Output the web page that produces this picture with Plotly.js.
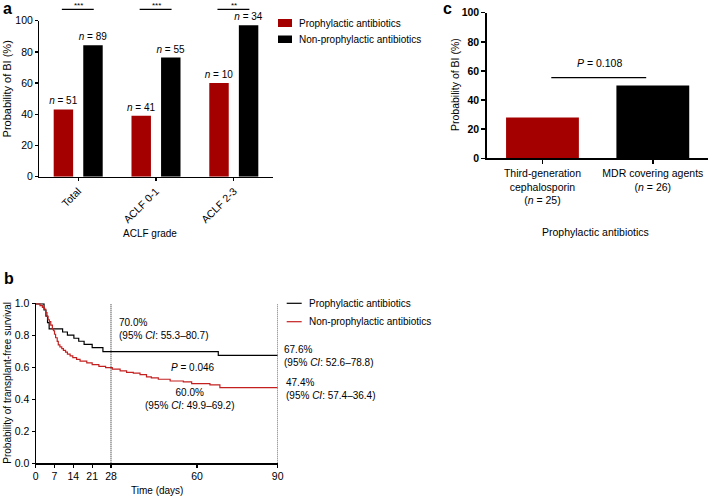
<!DOCTYPE html>
<html><head><meta charset="utf-8">
<script src="https://cdn.plot.ly/plotly-3.0.1.min.js"></script>
<style>html,body{margin:0;padding:0;background:#fff}</style>
</head><body><div id="chart" style="width:708px;height:496px"></div>
<script>
// ---------- Panel a: probability of BI by ACLF grade ----------
const gradeCats = ['Total', 'ACLF 0-1', 'ACLF 2-3'];
const probProph = [43.1, 39.0, 60.0];
const probNonProph = [84.3, 76.4, 97.1];
const nProph = [51, 41, 10];
const nNonProph = [89, 55, 34];
const sigLabels = ['***', '***', '**'];
const seriesNames = ['Prophylactic antibiotics', 'Non-prophylactic antibiotics'];

// ---------- Panel c: probability of BI by prophylactic agent ----------
const abxCats = ['Third-generation cephalosporin', 'MDR covering agents'];
const abxLabels = ['Third-generation<br>cephalosporin', 'MDR covering agents'];
const abxN = [25, 26];
const abxProb = [28.0, 50.0];
const abxPValue = '0.108';
const probTicks = [0, 20, 40, 60, 80, 100];

// ---------- Panel b: transplant-free survival (Kaplan-Meier) ----------
const daysProph = [0, 3.1, 3.8, 4.4, 5.0, 10.0, 11.8, 14.2, 16.0, 18.0, 21.0, 25.0, 67.9, 90];
const survProph = [1.0, 0.961, 0.922, 0.882, 0.843, 0.823, 0.804, 0.784, 0.765, 0.745, 0.725, 0.700, 0.676, 0.676];
const daysNon = [0, 1.6, 2.5, 3.2, 3.7, 4.2, 4.6, 5.1, 5.6, 6.2, 6.6, 7.0, 7.4, 8.0, 8.4, 9.0, 9.7, 10.3, 11.1, 11.8,
  12.8, 13.8, 15.2, 16.5, 19.0, 21.0, 23.5, 26.0, 28.5, 31.4, 33.8, 36.3, 38.8, 41.2, 43.0, 45.6, 50.0, 54.9, 58.0, 64.8, 68.5, 90];
const survNon = [1.0, 0.989, 0.978, 0.966, 0.944, 0.921, 0.900, 0.888, 0.866, 0.843, 0.831, 0.809, 0.787, 0.764, 0.742, 0.730, 0.719, 0.708, 0.697, 0.685,
  0.674, 0.663, 0.652, 0.640, 0.629, 0.618, 0.607, 0.600, 0.590, 0.580, 0.570, 0.565, 0.556, 0.542, 0.535, 0.527, 0.516, 0.510, 0.500, 0.492, 0.474, 0.474];
const kmTicks = [0, 7, 14, 21, 28, 60, 90];
const survTicks = [0, 0.2, 0.4, 0.6, 0.8, 1.0];
const kmMarkDays = [28, 90];
const kmNotes = [
  {day: 28, surv: 0.70, ci: '55.3–80.7'},
  {day: 90, surv: 0.676, ci: '52.6–78.8'},
  {day: 90, surv: 0.474, ci: '57.4–36.4'},
  {day: 28, surv: 0.60, ci: '49.9–69.2'}
];
const kmPValue = '0.046';

// ---------- styling ----------
const FONT = 'Liberation Sans, Arial, Helvetica, sans-serif';
const RED = '#A50000';
const KMRED = '#C42020';
const W = 708, H = 496;
const px = v => v / W;
const py = v => 1 - v / H;

const domA = {x: [px(39.3), px(272.7)], y: [py(176.7), py(20.7)]};
const domC = {x: [px(487.3), 1.0], y: [py(158.3), py(12.7)]};
const domB = {x: [px(35.7), px(277.7)], y: [py(463.3), py(303.3)]};
const rngA = [-0.5, 2.5], rngAy = [0, 100];

const nText = n => '<i>n</i> = ' + n;

const traces = [
  {type: 'bar', name: seriesNames[0], x: gradeCats, y: probProph, xaxis: 'x', yaxis: 'y',
   width: 0.25, offset: -0.315, marker: {color: RED},
   text: nProph.map(nText), textposition: 'outside', constraintext: 'none', cliponaxis: false,
   textfont: {family: FONT, size: 10, color: '#000'}, hoverinfo: 'x+y'},
  {type: 'bar', name: seriesNames[1], x: gradeCats, y: probNonProph, xaxis: 'x', yaxis: 'y',
   width: 0.25, offset: 0.065, marker: {color: '#000'},
   text: nNonProph.map(nText), textposition: 'outside', constraintext: 'none', cliponaxis: false,
   textfont: {family: FONT, size: 10, color: '#000'}, hoverinfo: 'x+y'},
  {type: 'bar', name: 'Prophylactic antibiotics', x: abxCats, y: abxProb, xaxis: 'x2', yaxis: 'y2',
   width: 0.66, marker: {color: [RED, '#000']}, hoverinfo: 'x+y'},
  {type: 'scatter', mode: 'lines', name: seriesNames[0], x: daysProph, y: survProph, xaxis: 'x3', yaxis: 'y3',
   line: {shape: 'hv', color: '#000', width: 1.2}},
  {type: 'scatter', mode: 'lines', name: seriesNames[1], x: daysNon, y: survNon, xaxis: 'x3', yaxis: 'y3',
   line: {shape: 'hv', color: KMRED, width: 1.2}}
];

function catPaper(idx, dom, rng) { return dom[0] + (idx - rng[0]) / (rng[1] - rng[0]) * (dom[1] - dom[0]); }
function valPaper(v, dom, rng) { return dom[0] + (v - rng[0]) / (rng[1] - rng[0]) * (dom[1] - dom[0]); }

const shapes = [];
const annotations = [];

// significance bars for panel a (above plot area)
gradeCats.forEach((c, i) => {
  const yl = valPaper(107.3, domA.y, rngAy);
  shapes.push({type: 'line', xref: 'paper', yref: 'paper',
    x0: catPaper(i - 0.21, domA.x, rngA), x1: catPaper(i + 0.2, domA.x, rngA), y0: yl, y1: yl,
    line: {color: '#000', width: 1.3}});
  annotations.push({xref: 'paper', yref: 'paper', x: catPaper(i, domA.x, rngA), y: valPaper(109.6, domA.y, rngAy),
    text: sigLabels[i], showarrow: false, xanchor: 'center', yanchor: 'middle', borderpad: 0,
    font: {family: FONT, size: 8, color: '#000'}});
});

// manual legend for panel a
[[19, 27, RED], [35.5, 43, '#000']].forEach((r, i) => {
  shapes.push({type: 'rect', xref: 'paper', yref: 'paper', x0: px(278), x1: px(292), y0: py(r[1]), y1: py(r[0]),
    fillcolor: r[2], line: {width: 0}});
  annotations.push({xref: 'paper', yref: 'paper', x: px(296.5), y: py((r[0] + r[1]) / 2), text: seriesNames[i],
    showarrow: false, xanchor: 'left', yanchor: 'middle', font: {family: FONT, size: 10, color: '#000'}});
});

// panel c p-value bar
shapes.push({type: 'line', xref: 'x2', yref: 'y2', x0: 0.08, x1: 0.94, y0: 55.4, y1: 55.4, line: {color: '#000', width: 1.3}});
annotations.push({xref: 'x2', yref: 'y2', x: 0.52, y: 65.2, text: '<i>P</i> = ' + abxPValue, showarrow: false,
  xanchor: 'center', yanchor: 'middle', font: {family: FONT, size: 10.5, color: '#000'}});

// panel b dotted reference lines
kmMarkDays.forEach(d => shapes.push({type: 'line', xref: 'x3', yref: 'y3', x0: d, x1: d, y0: 0, y1: 1,
  line: {color: '#111', width: 1, dash: '1px,1px'}}));

// manual legend for panel b
[[303.3, '#000'], [321.7, KMRED]].forEach((r, i) => {
  shapes.push({type: 'line', xref: 'paper', yref: 'paper', x0: px(286.7), x1: px(301.7), y0: py(r[0]), y1: py(r[0]),
    line: {color: r[1], width: 1.2}});
  annotations.push({xref: 'paper', yref: 'paper', x: px(306.5), y: py(r[0]), text: seriesNames[i],
    showarrow: false, xanchor: 'left', yanchor: 'middle', font: {family: FONT, size: 10, color: '#000'}});
});

// panel b notes
const pct = v => (v * 100).toFixed(1) + '%';
const noteFont = {family: FONT, size: 10, color: '#000'};
const noteText = n => pct(n.surv) + '<br>(95% <i>CI</i>: ' + n.ci + ')';
annotations.push({xref: 'x3', yref: 'y3', x: 30.1, y: 0.84, text: noteText(kmNotes[0]), showarrow: false,
  xanchor: 'left', yanchor: 'middle', align: 'left', font: noteFont});
annotations.push({xref: 'x3', yref: 'y3', x: 90, xshift: 4.5, y: 0.672, text: noteText(kmNotes[1]), showarrow: false,
  xanchor: 'left', yanchor: 'middle', align: 'left', font: noteFont});
annotations.push({xref: 'x3', yref: 'y3', x: 90, xshift: 6, y: 0.466, text: noteText(kmNotes[2]), showarrow: false,
  xanchor: 'left', yanchor: 'middle', align: 'left', font: noteFont});
annotations.push({xref: 'x3', yref: 'y3', x: 57.5, y: 0.40, text: noteText(kmNotes[3]), showarrow: false,
  xanchor: 'center', yanchor: 'middle', align: 'center', font: noteFont});
annotations.push({xref: 'x3', yref: 'y3', x: 58.6, y: 0.60, text: '<i>P</i> = ' + kmPValue, showarrow: false,
  xanchor: 'center', yanchor: 'middle', font: noteFont});

// axis titles
const titleAnn = (x, y, text, size, angle) => ({xref: 'paper', yref: 'paper', x: px(x), y: py(y), text: text,
  showarrow: false, xanchor: 'center', yanchor: 'middle', textangle: angle || 0, font: {family: FONT, size: size, color: '#000'}});
annotations.push(titleAnn(6.7, 88.7, 'Probability of BI (%)', 11, -90));
annotations.push(titleAnn(150, 233.3, 'ACLF grade', 10));
annotations.push(titleAnn(455, 85, 'Probability of BI (%)', 10.5, -90));
annotations.push(titleAnn(595, 231.7, 'Prophylactic antibiotics', 10.5));
annotations.push(titleAnn(6.7, 383, 'Probability of transplant-free survival', 10, -90));
annotations.push(titleAnn(156.7, 490, 'Time (days)', 10));

// panel letters
const letter = (x, y, t) => ({xref: 'paper', yref: 'paper', x: px(x), y: py(y), text: '<b>' + t + '</b>', showarrow: false,
  xanchor: 'center', yanchor: 'middle', font: {family: FONT, size: 16, color: '#000'}});
annotations.push(letter(7.5, 8.5, 'a'));
annotations.push(letter(447.5, 8.5, 'c'));
annotations.push(letter(8.5, 278, 'b'));

const baseAxis = {showgrid: false, zeroline: false, showline: true, linecolor: '#000', ticks: 'outside',
  tickcolor: '#000', fixedrange: true};

const layout = {
  width: W, height: H, margin: {l: 0, r: 0, t: 0, b: 0}, paper_bgcolor: '#fff', plot_bgcolor: 'rgba(0,0,0,0)',
  showlegend: false, barmode: 'overlay', font: {family: FONT, size: 10, color: '#000'},
  xaxis: Object.assign({}, baseAxis, {domain: domA.x, anchor: 'y', type: 'category', range: rngA,
    linewidth: 1.3, ticklen: 3, tickwidth: 1.3, tickangle: -45, tickfont: {family: FONT, size: 10.5, color: '#000'}}),
  yaxis: Object.assign({}, baseAxis, {domain: domA.y, anchor: 'x', range: rngAy, tickvals: probTicks,
    linewidth: 1.3, ticklen: 3, tickwidth: 1.3, tickfont: {family: FONT, size: 10.5, color: '#000'}}),
  xaxis2: Object.assign({}, baseAxis, {domain: domC.x, anchor: 'y2', type: 'category', range: [-0.5, 1.5],
    tickvals: abxCats, ticktext: abxLabels.map((l, i) => l + '<br>(' + nText(abxN[i]) + ')'),
    linewidth: 2, ticklen: 4, tickwidth: 1.5, tickfont: {family: FONT, size: 10.5, color: '#000'}}),
  yaxis2: Object.assign({}, baseAxis, {domain: domC.y, anchor: 'x2', range: [0, 100], tickvals: probTicks,
    ticktext: probTicks.map(t => '<b>' + t + '</b>'),
    linewidth: 2, ticklen: 4, tickwidth: 1.5, tickfont: {family: FONT, size: 10.5, color: '#000'}}),
  xaxis3: Object.assign({}, baseAxis, {domain: domB.x, anchor: 'y3', range: [0, 90], tickvals: kmTicks,
    linewidth: 1.2, ticklen: 3, tickwidth: 1.2, tickfont: {family: FONT, size: 10.5, color: '#000'}}),
  yaxis3: Object.assign({}, baseAxis, {domain: domB.y, anchor: 'x3', range: [0, 1.003], tickvals: survTicks,
    tickformat: '.1f', linewidth: 1.2, ticklen: 3, tickwidth: 1.2, tickfont: {family: FONT, size: 10.5, color: '#000'}}),
  shapes: shapes,
  annotations: annotations
};

Plotly.newPlot('chart', traces, layout, {displayModeBar: false, staticPlot: true});
</script>
</body></html>
